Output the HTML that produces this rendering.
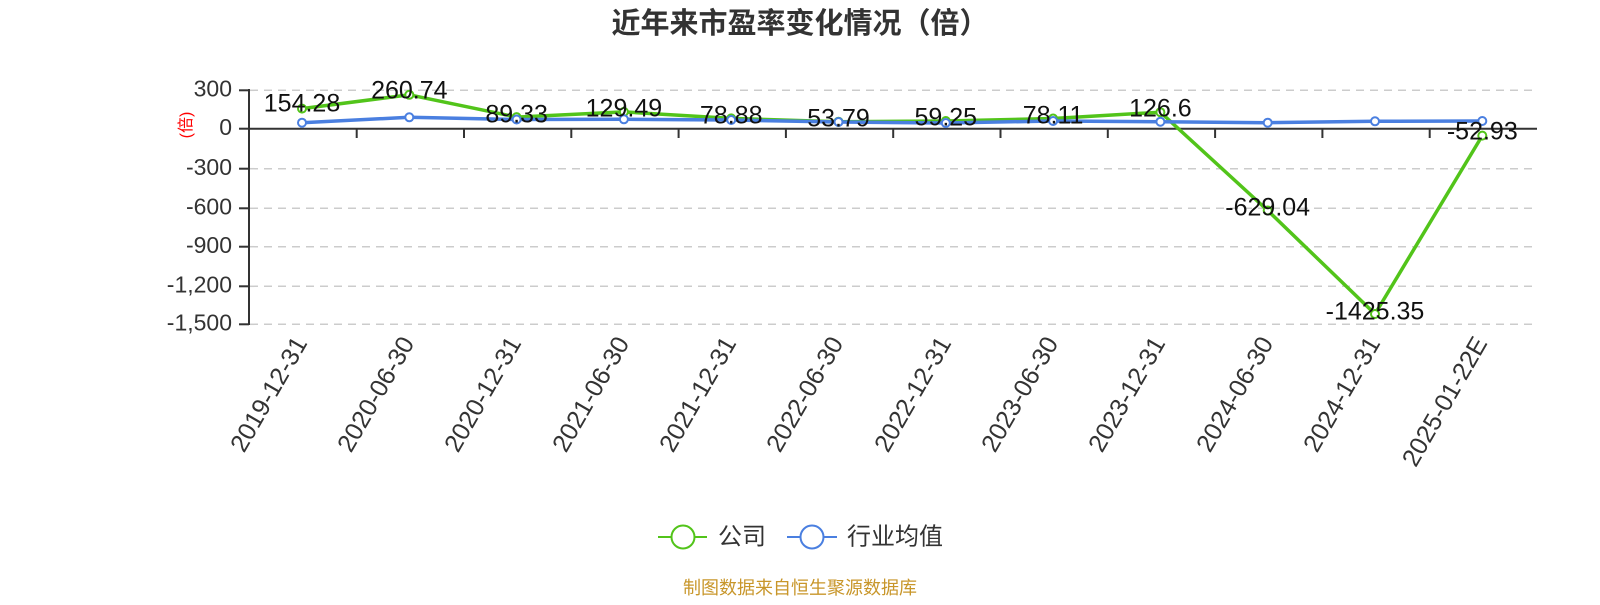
<!DOCTYPE html>
<html><head><meta charset="utf-8"><style>
html,body{margin:0;padding:0;background:#fff;}
svg text{font-family:"Liberation Sans","Noto Sans CJK SC",sans-serif;}
</style></head><body>
<svg width="1600" height="600" xmlns="http://www.w3.org/2000/svg">
<text x="800" y="33" text-anchor="middle" font-size="29" font-weight="bold" fill="#333">近年来市盈率变化情况（倍）</text>
<g stroke="#ccc" stroke-width="1.5" stroke-dasharray="8,6">
<line x1="250" y1="90.3" x2="1537" y2="90.3"/>
<line x1="250" y1="168.7" x2="1537" y2="168.7"/>
<line x1="250" y1="208.3" x2="1537" y2="208.3"/>
<line x1="250" y1="246.7" x2="1537" y2="246.7"/>
<line x1="250" y1="286.3" x2="1537" y2="286.3"/>
<line x1="250" y1="324.3" x2="1537" y2="324.3"/>
</g>
<g stroke="#333" stroke-width="2">
<line x1="249" y1="89" x2="249" y2="325"/>
<line x1="249" y1="128.7" x2="1537" y2="128.7"/>
<line x1="239" y1="90.3" x2="249" y2="90.3"/><line x1="239" y1="128.7" x2="249" y2="128.7"/>
<line x1="239" y1="168.7" x2="249" y2="168.7"/><line x1="239" y1="208.3" x2="249" y2="208.3"/>
<line x1="239" y1="246.7" x2="249" y2="246.7"/><line x1="239" y1="286.3" x2="249" y2="286.3"/>
<line x1="239" y1="324.3" x2="249" y2="324.3"/>
<line x1="356.7" y1="128.7" x2="356.7" y2="138"/><line x1="464" y1="128.7" x2="464" y2="138"/>
<line x1="571.3" y1="128.7" x2="571.3" y2="138"/><line x1="678.6" y1="128.7" x2="678.6" y2="138"/>
<line x1="785.9" y1="128.7" x2="785.9" y2="138"/><line x1="893.2" y1="128.7" x2="893.2" y2="138"/>
<line x1="1000.5" y1="128.7" x2="1000.5" y2="138"/><line x1="1107.8" y1="128.7" x2="1107.8" y2="138"/>
<line x1="1215.1" y1="128.7" x2="1215.1" y2="138"/><line x1="1322.4" y1="128.7" x2="1322.4" y2="138"/>
<line x1="1429.7" y1="128.7" x2="1429.7" y2="138"/>
</g>
<g font-size="23" fill="#333" text-anchor="end" dominant-baseline="middle">
<text x="232" y="90.3">300</text><text x="232" y="128.7">0</text><text x="232" y="168.7">-300</text>
<text x="232" y="208.3">-600</text><text x="232" y="246.7">-900</text><text x="232" y="286.3">-1,200</text>
<text x="232" y="324.3">-1,500</text>
</g>
<text transform="translate(187,125) rotate(-90)" text-anchor="middle" dominant-baseline="middle" font-size="16" fill="red">(倍)</text>
<g font-size="25" fill="#333" text-anchor="end">
<text transform="translate(308,343) rotate(-60)">2019-12-31</text>
<text transform="translate(415,343) rotate(-60)">2020-06-30</text>
<text transform="translate(522,343) rotate(-60)">2020-12-31</text>
<text transform="translate(630,343) rotate(-60)">2021-06-30</text>
<text transform="translate(737,343) rotate(-60)">2021-12-31</text>
<text transform="translate(844,343) rotate(-60)">2022-06-30</text>
<text transform="translate(952,343) rotate(-60)">2022-12-31</text>
<text transform="translate(1059,343) rotate(-60)">2023-06-30</text>
<text transform="translate(1166,343) rotate(-60)">2023-12-31</text>
<text transform="translate(1274,343) rotate(-60)">2024-06-30</text>
<text transform="translate(1381,343) rotate(-60)">2024-12-31</text>
<text transform="translate(1488,343) rotate(-60)">2025-01-22E</text>
</g>
<polyline fill="none" stroke="#52c41a" stroke-width="3.5" stroke-linejoin="round" points="302,108.6 409.3,94.8 516.6,117.1 623.9,111.9 731.2,118.4 838.5,121.7 945.8,121 1053.1,118.5 1160.4,112.2 1267.7,210.5 1375,314 1482.3,135.6"/>
<g fill="#fff" stroke="#52c41a" stroke-width="2">
<circle cx="302" cy="108.6" r="4"/><circle cx="409.3" cy="94.8" r="4"/><circle cx="516.6" cy="117.1" r="4"/><circle cx="623.9" cy="111.9" r="4"/><circle cx="731.2" cy="118.4" r="4"/><circle cx="838.5" cy="121.7" r="4"/><circle cx="945.8" cy="121" r="4"/><circle cx="1053.1" cy="118.5" r="4"/><circle cx="1160.4" cy="112.2" r="4"/><circle cx="1267.7" cy="210.5" r="4"/><circle cx="1375" cy="314" r="4"/><circle cx="1482.3" cy="135.6" r="4"/>
</g>
<polyline fill="none" stroke="#4a7fe0" stroke-width="3.5" stroke-linejoin="round" points="302,122.7 409.3,117.3 516.6,119.5 623.9,119.3 731.2,120 838.5,122 945.8,123 1053.1,121 1160.4,121.7 1267.7,122.7 1375,121.3 1482.3,121"/>
<g fill="#fff" stroke="#4a7fe0" stroke-width="2">
<circle cx="302" cy="122.7" r="4"/><circle cx="409.3" cy="117.3" r="4"/><circle cx="516.6" cy="119.5" r="4"/><circle cx="623.9" cy="119.3" r="4"/><circle cx="731.2" cy="120" r="4"/><circle cx="838.5" cy="122" r="4"/><circle cx="945.8" cy="123" r="4"/><circle cx="1053.1" cy="121" r="4"/><circle cx="1160.4" cy="121.7" r="4"/><circle cx="1267.7" cy="122.7" r="4"/><circle cx="1375" cy="121.3" r="4"/><circle cx="1482.3" cy="121" r="4"/>
</g>
<g font-size="25" fill="#111" text-anchor="middle" dominant-baseline="middle">
<text x="302" y="105">154.28</text><text x="409.3" y="92">260.74</text><text x="516.6" y="116">89.33</text>
<text x="623.9" y="110">129.49</text><text x="731.2" y="117">78.88</text><text x="838.5" y="120">53.79</text>
<text x="945.8" y="119">59.25</text><text x="1053.1" y="117">78.11</text><text x="1160.4" y="110">126.6</text>
<text x="1267.7" y="209">-629.04</text><text x="1375" y="313">-1425.35</text><text x="1482.3" y="133">-52.93</text>
</g>
<line x1="658" y1="537" x2="707" y2="537" stroke="#52c41a" stroke-width="2"/>
<circle cx="683" cy="537" r="11.5" fill="#fff" stroke="#52c41a" stroke-width="2"/>
<text x="718" y="538" font-size="24" fill="#333" dominant-baseline="middle">公司</text>
<line x1="787" y1="537" x2="837" y2="537" stroke="#4a7fe0" stroke-width="2"/>
<circle cx="812" cy="537" r="11.5" fill="#fff" stroke="#4a7fe0" stroke-width="2"/>
<text x="847" y="538" font-size="24" fill="#333" dominant-baseline="middle">行业均值</text>
<text x="800" y="589" font-size="18" fill="#c8962a" text-anchor="middle" dominant-baseline="middle">制图数据来自恒生聚源数据库</text>
</svg>
</body></html>
